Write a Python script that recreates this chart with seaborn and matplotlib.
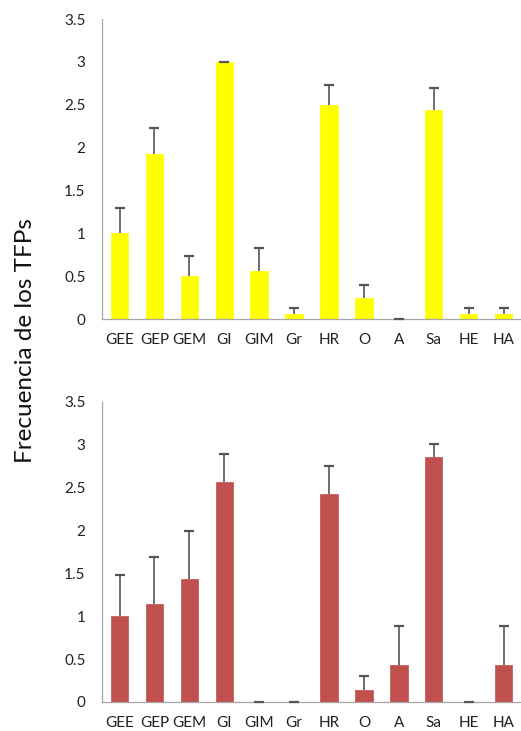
import matplotlib
matplotlib.use("Agg")
import matplotlib.pyplot as plt
import seaborn as sns
import numpy as np
import pandas as pd

categories = ["GEE", "GEP", "GEM", "GI", "GIM", "Gr", "HR", "O", "A", "Sa", "HE", "HA"]
top_values = [1.0, 1.93, 0.5, 3.0, 0.56, 0.06, 2.5, 0.25, 0.0, 2.44, 0.06, 0.06]
top_err = [0.30, 0.30, 0.24, 0.0, 0.27, 0.07, 0.23, 0.15, 0.0, 0.25, 0.07, 0.07]
bottom_values = [1.0, 1.14, 1.43, 2.57, 0.0, 0.0, 2.43, 0.14, 0.43, 2.86, 0.0, 0.43]
bottom_err = [0.48, 0.55, 0.57, 0.32, 0.0, 0.0, 0.32, 0.16, 0.46, 0.15, 0.0, 0.46]
yticks = [0, 0.5, 1, 1.5, 2, 2.5, 3, 3.5]
ytick_labels = ["0", "0.5", "1", "1.5", "2", "2.5", "3", "3.5"]
ylabel = "Frecuencia de los TFPs"

sns.set_style("white")
plt.rcParams["font.family"] = ["Lato", "DejaVu Sans"]

fig = plt.figure(figsize=(5.21, 7.31), dpi=100)
ax1 = fig.add_axes([0.196, 0.5636, 0.804, 0.4104])
ax2 = fig.add_axes([0.196, 0.0397, 0.804, 0.4104])

def draw(ax, vals, errs, color):
    df = pd.DataFrame({"cat": categories, "val": vals})
    sns.barplot(data=df, x="cat", y="val", color=color, width=0.5, ax=ax,
                saturation=1, edgecolor=color, linewidth=0.5)
    x = np.arange(len(categories))
    v = np.array(vals)
    e = np.array(errs)
    ax.errorbar(x, v, yerr=[np.zeros(len(v)), e], fmt="none",
                ecolor="#555555", elinewidth=1.2, capsize=0)
    ax.plot(x, v + e, linestyle="none", marker="_", markersize=7,
            markeredgewidth=1.6, color="#555555", clip_on=False, zorder=5)
    ax.set_xlim(-0.5, len(categories) - 0.5)
    ax.set_ylim(0, 3.5)
    ax.set_yticks(yticks)
    ax.set_yticklabels(ytick_labels, fontsize=11, color="#222222")
    ax.set_xlabel("")
    ax.set_ylabel("")
    ax.tick_params(axis="x", which="major", length=0, labelsize=11, pad=10, labelcolor="#222222")
    ax.set_xticks(np.arange(-0.5, len(categories), 1.0), minor=True)
    ax.tick_params(axis="x", which="minor", length=5, width=0.8, color="#A6A6A6", direction="out")
    ax.tick_params(axis="y", which="major", length=4, width=0.8, color="#A6A6A6", direction="out", pad=8)
    for s in ["top", "right"]:
        ax.spines[s].set_visible(False)
    for s in ["left", "bottom"]:
        ax.spines[s].set_color("#A6A6A6")
        ax.spines[s].set_linewidth(0.9)

draw(ax1, top_values, top_err, "#FFFF00")
draw(ax2, bottom_values, bottom_err, "#C0504D")

fig.text(0.048, 0.534, ylabel, rotation=90, va="center", ha="center", fontsize=17.5, color="#111111")

fig.savefig("out.png", dpi=100)
